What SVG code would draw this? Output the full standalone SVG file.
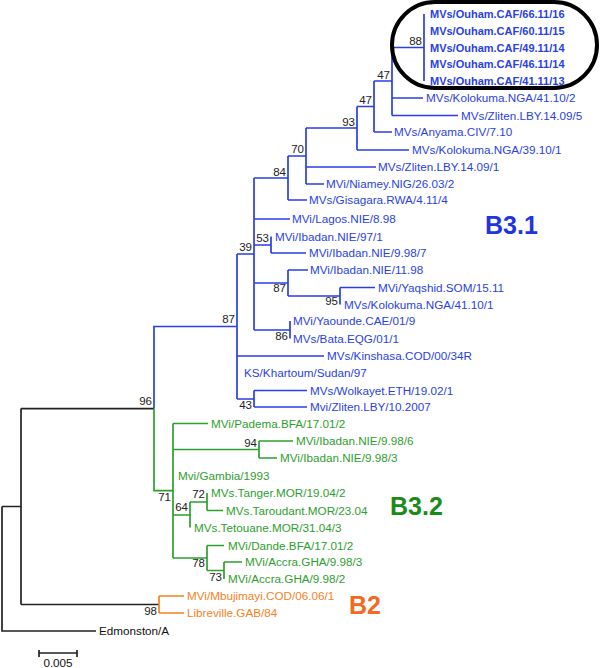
<svg xmlns="http://www.w3.org/2000/svg" width="600" height="668" viewBox="0 0 600 668">
<style>
text{font-family:"Liberation Sans",Arial,sans-serif;font-size:11.7px}
.b{fill:#2a3fe5}.g{fill:#2e9e2e}.o{fill:#f5821f}.k{fill:#111}
.bs{font-size:11.5px;fill:#222;text-anchor:end}
.bold{font-weight:bold;font-size:11px}
.lb{stroke:#2a3fe5}.lg{stroke:#2e9e2e}.lo{stroke:#f5821f}.lk{stroke:#222}
path{fill:none;stroke-width:1.7}
.big{font-weight:bold;font-size:25px}
</style>
<g id="connectors">
<path class="lk" d="M2,506.5V631H96M2,506.5H21M21,408.6V604.5M21,408.6H154M21,604.5H159"/>
<path class="lo" d="M159,596V613M159,596H184M159,613H184"/>
<path class="lb" d="M154,408.6V326.5H237M237,254V399M237,254H254M254,178V330M254,178H288M288,156V200M288,200H307M288,156H306M306,128V184M306,167H376M306,184H324M306,128H357M357,106.5V150M357,150H409M357,106.5H374M374,81V132M374,132H392M374,81H392M392,47.5V115.5M392,98H423M392,115.5H458M392,47.5H424M424,14V81M254,219H290M254,245H271M271,236.5V253M271,253H306M254,283H288M288,270V296M288,270H308M288,296H340M340,287.5V304.5M340,287.5H375M254,330H290M290,321V338.5M237,356H324M237,399H254M254,390.5V407M254,390.5H307M254,407H307"/>
<path class="lg" d="M154,408.6V490.7H173M173,423.5V558M173,423.5H208M173,449.5H259M259,441V458M259,441H293M259,458H277M173,515H190M190,502V527.5M190,502H207M207,493V510.5M207,510.5H223M173,558H207M207,545.5V570.5M207,545.5H224M207,570.5H224M224,562V579M224,562H242"/>
<path class="lk" d="M39,653H77M39,650V657M77,650V657"/>
</g>
<rect id="ouham-box" x="392" y="2" width="205" height="86" rx="43" fill="none" stroke="#000" stroke-width="4"/>
<g id="leaf-ouham-66"><text class="b bold" x="430" y="18">MVs/Ouham.CAF/66.11/16</text></g>
<g id="leaf-ouham-60"><text class="b bold" x="430" y="35">MVs/Ouham.CAF/60.11/15</text></g>
<g id="leaf-ouham-49"><text class="b bold" x="430" y="51.5">MVs/Ouham.CAF/49.11/14</text></g>
<g id="leaf-ouham-46"><text class="b bold" x="430" y="68">MVs/Ouham.CAF/46.11/14</text></g>
<g id="leaf-ouham-41"><text class="b bold" x="430" y="85">MVs/Ouham.CAF/41.11/13</text></g>
<g id="leaf-kolokuma-41-2"><text class="b" x="426" y="102">MVs/Kolokuma.NGA/41.10/2</text></g>
<g id="leaf-zliten-5"><text class="b" x="461" y="119.5">MVs/Zliten.LBY.14.09/5</text></g>
<g id="leaf-anyama"><text class="b" x="394" y="136">MVs/Anyama.CIV/7.10</text></g>
<g id="leaf-kolokuma-39"><text class="b" x="412" y="154">MVs/Kolokuma.NGA/39.10/1</text></g>
<g id="leaf-zliten-1"><text class="b" x="378" y="171">MVs/Zliten.LBY.14.09/1</text></g>
<g id="leaf-niamey"><text class="b" x="326" y="188">MVi/Niamey.NIG/26.03/2</text></g>
<g id="leaf-gisagara"><text class="b" x="309" y="204">MVs/Gisagara.RWA/4.11/4</text></g>
<g id="leaf-lagos"><text class="b" x="292" y="223">MVi/Lagos.NIE/8.98</text></g>
<g id="leaf-ibadan-97"><text class="b" x="275" y="240.5">MVi/Ibadan.NIE/97/1</text></g>
<g id="leaf-ibadan-998-7"><text class="b" x="309" y="257">MVi/Ibadan.NIE/9.98/7</text></g>
<g id="leaf-ibadan-1198"><text class="b" x="310" y="274">MVi/Ibadan.NIE/11.98</text></g>
<g id="leaf-yaqshid"><text class="b" x="378" y="291.5">MVi/Yaqshid.SOM/15.11</text></g>
<g id="leaf-kolokuma-41-1"><text class="b" x="344" y="308.5">MVs/Kolokuma.NGA/41.10/1</text></g>
<g id="leaf-yaounde"><text class="b" x="293" y="325">MVi/Yaounde.CAE/01/9</text></g>
<g id="leaf-bata"><text class="b" x="293" y="342.5">MVs/Bata.EQG/01/1</text></g>
<g id="leaf-kinshasa"><text class="b" x="327" y="360">MVs/Kinshasa.COD/00/34R</text></g>
<g id="leaf-khartoum"><text class="b" x="244" y="377">KS/Khartoum/Sudan/97</text></g>
<g id="leaf-wolkayet"><text class="b" x="310" y="394.5">MVs/Wolkayet.ETH/19.02/1</text></g>
<g id="leaf-zliten-2007"><text class="b" x="310" y="411">Mvi/Zliten.LBY/10.2007</text></g>
<g id="leaf-padema"><text class="g" x="211" y="427.5">MVi/Padema.BFA/17.01/2</text></g>
<g id="leaf-ibadan-998-6"><text class="g" x="296" y="445">MVi/Ibadan.NIE/9.98/6</text></g>
<g id="leaf-ibadan-998-3"><text class="g" x="280" y="462">MVi/Ibadan.NIE/9.98/3</text></g>
<g id="leaf-gambia"><text class="g" x="178" y="480">Mvi/Gambia/1993</text></g>
<g id="leaf-tanger"><text class="g" x="211" y="497">MVs.Tanger.MOR/19.04/2</text></g>
<g id="leaf-taroudant"><text class="g" x="226" y="514.5">MVs.Taroudant.MOR/23.04</text></g>
<g id="leaf-tetouane"><text class="g" x="194" y="531.5">MVs.Tetouane.MOR/31.04/3</text></g>
<g id="leaf-dande"><text class="g" x="228" y="549.5">MVi/Dande.BFA/17.01/2</text></g>
<g id="leaf-accra-3"><text class="g" x="245" y="566">MVi/Accra.GHA/9.98/3</text></g>
<g id="leaf-accra-2"><text class="g" x="228" y="583">MVi/Accra.GHA/9.98/2</text></g>
<g id="leaf-mbujimayi"><text class="o" x="187" y="600">MVi/Mbujimayi.COD/06.06/1</text></g>
<g id="leaf-libreville"><text class="o" x="187" y="617">Libreville.GAB/84</text></g>
<g id="leaf-edmonston"><text class="k" x="99" y="635">Edmonston/A</text></g>
<g id="node-88"><text class="bs" x="422" y="45">88</text></g>
<g id="node-47a"><text class="bs" x="390" y="79">47</text></g>
<g id="node-47b"><text class="bs" x="372" y="104">47</text></g>
<g id="node-93"><text class="bs" x="355" y="126">93</text></g>
<g id="node-70"><text class="bs" x="304" y="153">70</text></g>
<g id="node-84"><text class="bs" x="286" y="176">84</text></g>
<g id="node-53"><text class="bs" x="269" y="242">53</text></g>
<g id="node-39"><text class="bs" x="252" y="251">39</text></g>
<g id="node-87i"><text class="bs" x="286" y="292">87</text></g>
<g id="node-95"><text class="bs" x="338" y="305">95</text></g>
<g id="node-87"><text class="bs" x="235" y="323">87</text></g>
<g id="node-86"><text class="bs" x="288" y="340">86</text></g>
<g id="node-43"><text class="bs" x="252" y="409">43</text></g>
<g id="node-96"><text class="bs" x="152" y="405">96</text></g>
<g id="node-94"><text class="bs" x="257" y="447">94</text></g>
<g id="node-72"><text class="bs" x="205" y="498">72</text></g>
<g id="node-71"><text class="bs" x="171" y="501">71</text></g>
<g id="node-64"><text class="bs" x="188" y="511">64</text></g>
<g id="node-78"><text class="bs" x="205" y="567">78</text></g>
<g id="node-73"><text class="bs" x="222" y="581">73</text></g>
<g id="node-98"><text class="bs" x="157" y="615">98</text></g>
<g id="label-b31"><text class="big" x="485" y="234" fill="#1f35e0">B3.1</text></g>
<g id="label-b32"><text class="big" x="390" y="515" fill="#1a8a1a">B3.2</text></g>
<g id="label-b2"><text class="big" x="349" y="614" fill="#f26a21">B2</text></g>
<g id="scale"><text class="k" x="58" y="667" font-size="11" text-anchor="middle">0.005</text></g>
</svg>
